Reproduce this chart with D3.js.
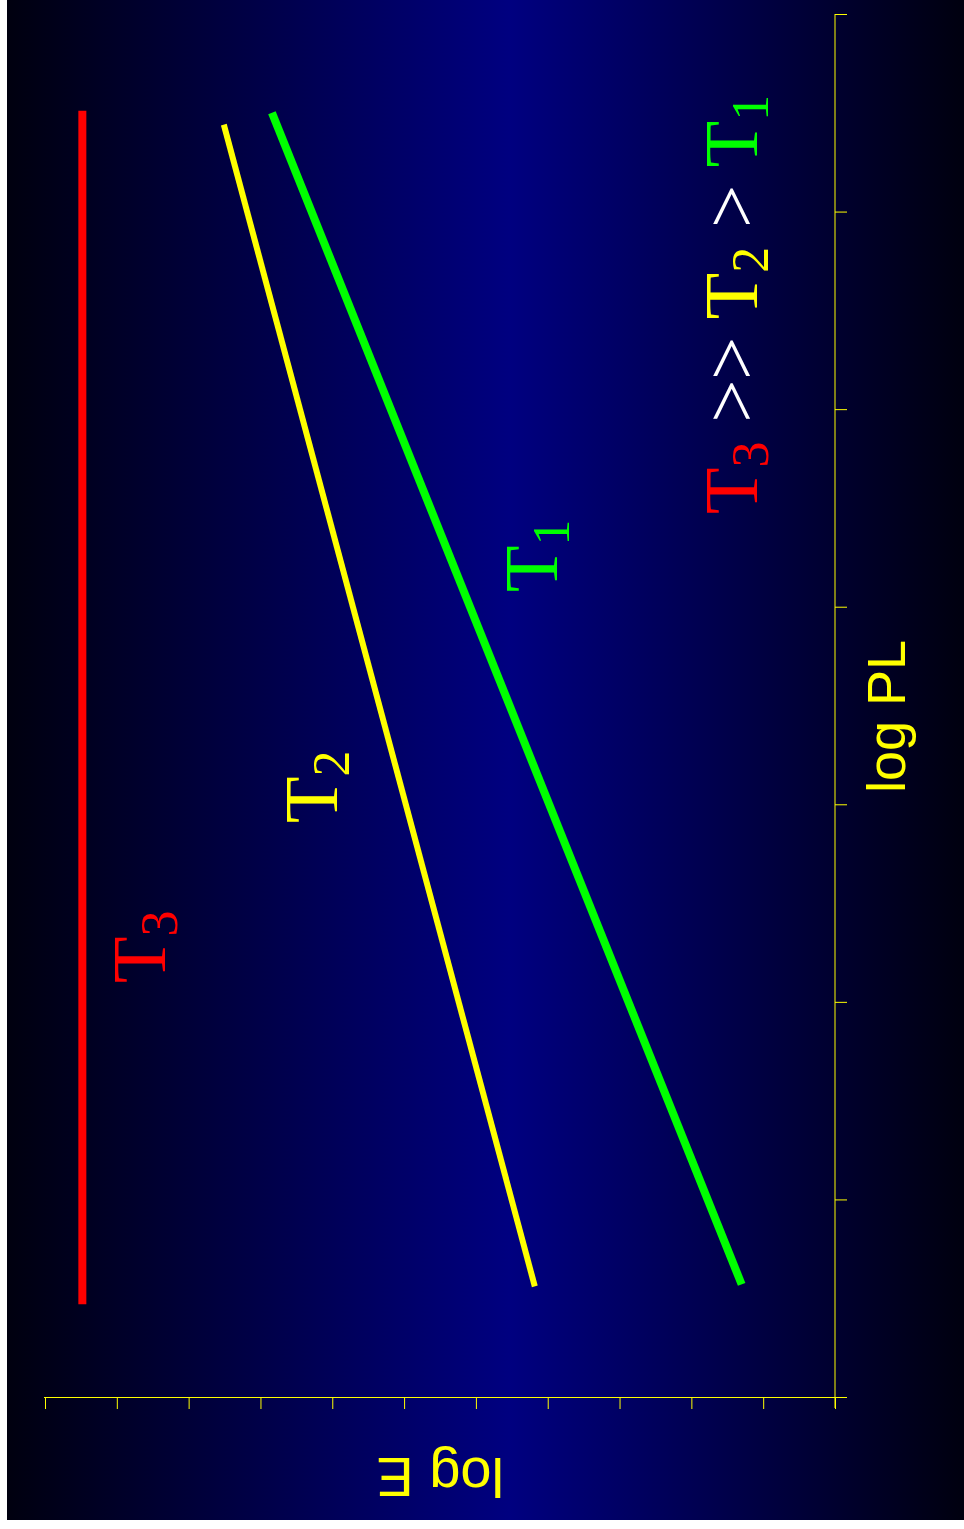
<!DOCTYPE html>
<html>
<head>
<meta charset="utf-8">
<script src="https://cdn.jsdelivr.net/npm/d3@7"></script>
<style>
  html, body { margin: 0; padding: 0; background: #ffffff; }
  svg { display: block; }
  text { white-space: pre; }
</style>
</head>
<body>
<script>
// ---- data ----
const seriesNames = ["T1", "T2", "T3"];
const seriesColors = ["#00ff00", "#ffff00", "#ff0000"];
// endpoints of each straight line: log PL (x in the upright chart) and log E
const t1LogPL = [0.57, 6.50];
const t1LogE  = [1.30, 7.84];
const t2LogPL = [0.56, 6.44];
const t2LogE  = [4.18, 8.51];
const t3LogPL = [0.47, 6.51];
const t3LogE  = [10.48, 10.48];
const logPLTicks = [0, 1, 2, 3, 4, 5, 6, 7];
const logETicks  = [0, 1, 2, 3, 4, 5, 6, 7, 8, 9, 10, 11];
const xAxisTitle = "log PL";
const yAxisTitle = "log E";

const W = 964, H = 1529;
const svg = d3.select("body").append("svg").attr("width", W).attr("height", H);

// background gradient (dark edges, blue middle)
const defs = svg.append("defs");
const grad = defs.append("linearGradient").attr("id", "bg")
  .attr("x1", "0%").attr("x2", "100%").attr("y1", "0%").attr("y2", "0%");
grad.append("stop").attr("offset", "0%").attr("stop-color", "#00000f");
grad.append("stop").attr("offset", "52.5%").attr("stop-color", "#000080");
grad.append("stop").attr("offset", "100%").attr("stop-color", "#00000f");
svg.append("rect").attr("x", 7).attr("y", 0).attr("width", 957).attr("height", 1520)
  .attr("fill", "url(#bg)");

// The chart is shown rotated 90deg counter-clockwise:
// log E runs along screen x (growing leftwards), log PL along screen y (growing upwards).
const xE  = d3.scaleLinear().domain([0, 11]).range([835, 45]);
const yPL = d3.scaleLinear().domain([0, 7]).range([1397, 14]);

// axes
const axE = svg.append("g").attr("transform", "translate(0,1397)")
  .call(d3.axisBottom(xE).tickValues(logETicks).tickSize(12).tickSizeOuter(0).tickFormat(""));
axE.select(".domain").remove();
axE.selectAll(".tick line").attr("stroke", "#ffff00");

const axPL = svg.append("g").attr("transform", "translate(835,0)")
  .call(d3.axisRight(yPL).tickValues(logPLTicks).tickSize(12).tickSizeOuter(0).tickFormat(""));
axPL.select(".domain").remove();
axPL.selectAll(".tick line").attr("stroke", "#ffff00");

svg.append("line")
  .attr("x1", xE(11) - 1).attr("x2", xE(0) + 12)
  .attr("y1", yPL(0) + 0.5).attr("y2", yPL(0) + 0.5)
  .attr("stroke", "#ffff00").attr("stroke-width", 1.2);
svg.append("line")
  .attr("x1", xE(0)).attr("x2", xE(0))
  .attr("y1", yPL(7)).attr("y2", yPL(0) + 11)
  .attr("stroke", "#ffff00").attr("stroke-width", 1);

// lines
const series = [
  { name: "T1", pl: t1LogPL, e: t1LogE, color: seriesColors[0], w: 8 },
  { name: "T2", pl: t2LogPL, e: t2LogE, color: seriesColors[1], w: 6 },
  { name: "T3", pl: t3LogPL, e: t3LogE, color: seriesColors[2], w: 8 }
];
const lineGen = d3.line().x(d => xE(d[1])).y(d => yPL(d[0]));
svg.selectAll("path.series").data(series).enter().append("path")
  .attr("class", "series")
  .attr("d", s => lineGen(s.pl.map((p, i) => [p, s.e[i]])))
  .attr("fill", "none")
  .attr("stroke", s => s.color)
  .attr("stroke-width", s => s.w)
  .attr("stroke-linecap", "butt");

// labels
const serif = "'Liberation Serif', 'Times New Roman', serif";
const sans = "'Liberation Sans', Arial, sans-serif";

function subLabel(x, y, sub, color) {
  const t = svg.append("text")
    .attr("transform", `translate(${x},${y}) rotate(-90)`)
    .attr("font-family", serif).attr("font-size", 76).attr("fill", color);
  t.append("tspan").text("T");
  t.append("tspan").attr("font-size", 52).attr("dy", 12).text(sub);
}
subLabel(165, 983, "3", seriesColors[2]);
subLabel(337, 823, "2", seriesColors[1]);
subLabel(557, 592, "1", seriesColors[0]);

// ordering label
const ord = svg.append("text")
  .attr("transform", "translate(757,514) rotate(-90)")
  .attr("font-family", serif).attr("font-size", 76);
const parts = [
  { t: "T", c: seriesColors[2] }, { t: "3", c: seriesColors[2], sub: true },
  { t: " >> ", c: "#ffffff" },
  { t: "T", c: seriesColors[1] }, { t: "2", c: seriesColors[1], sub: true },
  { t: " > ", c: "#ffffff" },
  { t: "T", c: seriesColors[0] }, { t: "1", c: seriesColors[0], sub: true }
];
let prevSub = false;
parts.forEach(p => {
  const ts = ord.append("tspan").attr("fill", p.c).text(p.t);
  if (p.sub) { ts.attr("font-size", 52).attr("dy", 11); prevSub = true; }
  else if (prevSub) { ts.attr("dy", -11); prevSub = false; }
});

// axis titles
svg.append("text")
  .attr("transform", "translate(905,793) rotate(-90)")
  .attr("font-family", sans).attr("font-size", 54).attr("fill", "#ffff00")
  .text(xAxisTitle);
svg.append("text")
  .attr("transform", "translate(504,1458) rotate(180)")
  .attr("font-family", sans).attr("font-size", 56).attr("fill", "#ffff00")
  .text(yAxisTitle);
</script>
</body>
</html>
